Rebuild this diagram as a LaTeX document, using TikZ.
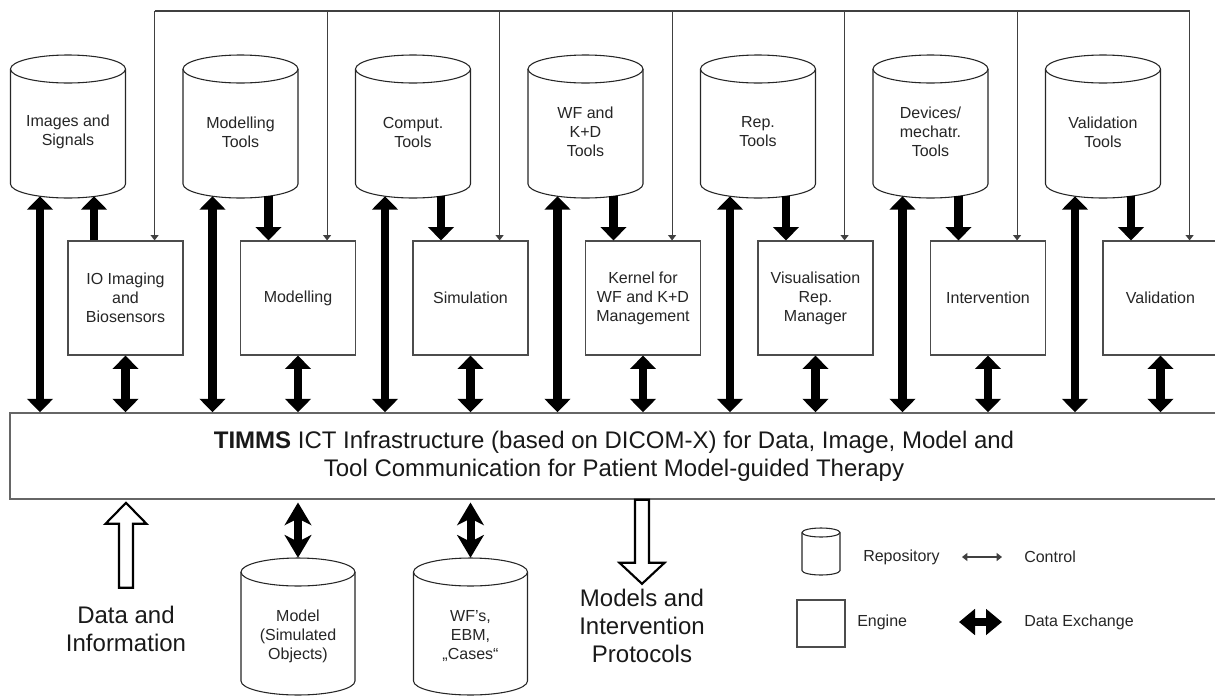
\documentclass[tikz,border=0pt]{standalone}
\usepackage{fontspec}
\setmainfont{Liberation Sans}
\usetikzlibrary{arrows.meta,calc}
\newcommand{\drawrepo}[8]{%
 \pgfmathsetmacro\rpl{#2-#4}%
 \pgfmathsetmacro\rpr{#2+#4}%
 \pgfmathsetmacro\rpa{#3+#5}%
 \pgfmathsetmacro\rpb{#3+#6-#5}%
 \pgfmathsetmacro\rpc{#3+#6}%
 \pgfmathsetmacro\rpkx{0.5523*#4}%
 \pgfmathsetmacro\rpky{0.5523*#5}%
 \pgfmathsetmacro\rpm{#3+#6/2}%
 \pgfmathsetmacro\rpw{1.5*#4}%
 \pgfmathsetmacro\rph{0.75*#6}%
 \draw[repoline,fill=white] (\rpl,\rpa) -- (\rpl,\rpb) .. controls (\rpl,\rpb+\rpky) and (#2-\rpkx,\rpc) .. (#2,\rpc) .. controls (#2+\rpkx,\rpc) and (\rpr,\rpb+\rpky) .. (\rpr,\rpb) -- (\rpr,\rpa);
 \draw[repoline,fill=white] (#2,\rpa) ellipse [x radius=#4, y radius=#5];
 \node[inner sep=0pt, minimum width=\rpw pt, minimum height=\rph pt] (#1) at (#2,\rpm) {};
 \node[lbl] (#1-t) at (#2,#7) {#8};
}
\begin{document}
\begin{tikzpicture}[x=0.75pt,y=-0.75pt,
  repoline/.style={draw=black!85, line width=0.8pt},
  lbl/.style={font=\fontsize{12}{14.25}\selectfont, align=center, text=black!85},
  engine/.style={draw=black!70, line width=0.9pt, fill=white, minimum width=86.25pt, minimum height=85.5pt, inner sep=0pt, align=center, text=black!85, font=\fontsize{12}{14.25}\selectfont},
  big/.style={font=\fontsize{18}{21}\selectfont, align=center, text=black!90},
  data/.style={line width=6.5pt, draw=black, -{Triangle[length=10pt,width=19pt]}},
  ddata/.style={line width=6.5pt, draw=black, {Triangle[length=10pt,width=19pt]}-{Triangle[length=10pt,width=19pt]}},
  bdata/.style={line width=6pt, draw=black, {Stealth[length=17pt,width=20pt,inset=5pt]}-{Stealth[length=17pt,width=20pt,inset=5pt]}},
  ctrlline/.style={line width=0.8pt, draw=black!75},
  ctrl/.style={line width=0.8pt, draw=black!75, -{Triangle[length=4pt,width=6pt]}},
  hollow/.style={draw=black, line width=1.6pt, fill=white, line join=miter}
]
\useasboundingbox (0,0) rectangle (1215,697);

% top repositories
\drawrepo{r1}{68}{55}{57.5}{14}{143}{132}{Images and\\Signals}
\drawrepo{r2}{240.5}{55}{57.5}{14}{143}{132}{Modelling\\Tools}
\drawrepo{r3}{413}{55}{57.5}{14}{143}{132}{Comput.\\Tools}
\drawrepo{r4}{585.5}{55}{57.5}{14}{143}{132}{WF and\\K+D\\Tools}
\drawrepo{r5}{758}{55}{57.5}{14}{143}{132}{Rep.\\Tools}
\drawrepo{r6}{930.5}{55}{57.5}{14}{143}{132}{Devices/\\mechatr.\\Tools}
\drawrepo{r7}{1103}{55}{57.5}{14}{143}{132}{Validation\\Tools}

% engines
\node[engine] (e1) at (125.5,298) {IO Imaging\\and\\Biosensors};
\node[engine] (e2) at (298,298) {Modelling};
\node[engine] (e3) at (470.5,298) {Simulation};
\node[engine] (e4) at (643,298) {Kernel for\\WF and K+D\\Management};
\node[engine] (e5) at (815.5,298) {Visualisation\\Rep.\\Manager};
\node[engine] (e6) at (988,298) {Intervention};
\node[engine] (e7) at (1160.5,298) {Validation};

% infrastructure
\node[draw=black!60, line width=1.2pt, fill=white, minimum width=906pt, minimum height=64.5pt, big] (timms) at (614,456)
 {\textbf{TIMMS} ICT Infrastructure (based on DICOM-X) for Data, Image, Model and\\Tool Communication for Patient Model-guided Therapy};

% control bus
\coordinate (bus) at (0,11);
\foreach \i in {1,...,7}{
  \coordinate (k\i) at ($(e\i.north east)+(-29,0)$);
}
\draw[ctrlline] (k1 |- bus) -- (k7 |- bus);
\foreach \i in {1,...,7}{
  \draw[ctrl] (k\i |- bus) -- (k\i);
}

% data arrows
\foreach \i in {1,...,7}{
  \coordinate (la\i) at ($(r\i.south)+(-28,-2)$);
  \draw[ddata] (la\i) -- (la\i |- timms.north);
  \draw[ddata] (e\i.south) -- (e\i.south |- timms.north);
}
\coordinate (da1) at ($(r1.south)+(26,-2)$);
\draw[data] (da1 |- e1.north) -- (da1);
\foreach \i in {2,...,7}{
  \coordinate (da\i) at ($(r\i.south)+(28,-2)$);
  \draw[data] (da\i) -- (da\i |- e\i.north);
}

% bottom repositories
\drawrepo{b1}{298}{558}{57}{14}{137}{636}{Model\\(Simulated\\Objects)}
\drawrepo{b2}{470.5}{558}{57}{14}{137}{636}{WF's,\\EBM,\\„Cases“}
\coordinate (bt1) at (timms.south -| b1.north);
\coordinate (bt2) at (timms.south -| b2.north);
\draw[bdata] ([yshift=-2pt]bt1) -- (b1.north);
\draw[bdata] ([yshift=-2pt]bt2) -- (b2.north);

% data and information
\node[big] (dtext) at (126,629) {Data and\\Information};
\coordinate (dtip0) at (timms.south -| dtext.north);
\coordinate (dtip) at ($(dtip0)+(0,3)$);
\draw[hollow] (dtip) -- ++(20.5,21) -- ++(-13.5,0) -- ++(0,64) -- ++(-14,0) -- ++(0,-64) -- ++(-13.5,0) -- cycle;

% models and intervention protocols
\node[big] (mtext) at (642,626) {Models and\\Intervention\\Protocols};
\coordinate (mtop) at (timms.south -| mtext.north);
\draw[hollow] ($(mtop)+(-7,0)$) -- ++(0,63) -- ++(-15.5,0) -- ++(22.5,21) -- ++(22.5,-21) -- ++(-15.5,0) -- ++(0,-63) -- cycle;

% legend
\drawrepo{lr}{821}{528}{19}{4.5}{47}{551}{}
\node[lbl, anchor=west, inner sep=0pt] (lrtext) at (863,557) {Repository};
\node[draw=black!70, line width=0.9pt, minimum width=36pt, minimum height=35.25pt, inner sep=0pt] (le) at (821,623.5) {};
\node[lbl, anchor=west, inner sep=0pt] (letext) at (857,622) {Engine};
\coordinate (lc1) at (962,557);
\coordinate (lc2) at (1002,557);
\draw[ctrl, {Triangle[length=4pt,width=6pt]}-{Triangle[length=4pt,width=6pt]}] (lc1) -- (lc2);
\node[lbl, anchor=west, inner sep=0pt] (lctext) at (1024,557) {Control};
\coordinate (ld1) at (959,622);
\coordinate (ld2) at (1002,622);
\draw[line width=6.5pt, draw=black, {Triangle[length=12pt,width=19pt]}-{Triangle[length=12pt,width=19pt]}] (ld1) -- (ld2);
\node[lbl, anchor=west, inner sep=0pt] (ldtext) at (1024,622) {Data Exchange};
\end{tikzpicture}
\end{document}
